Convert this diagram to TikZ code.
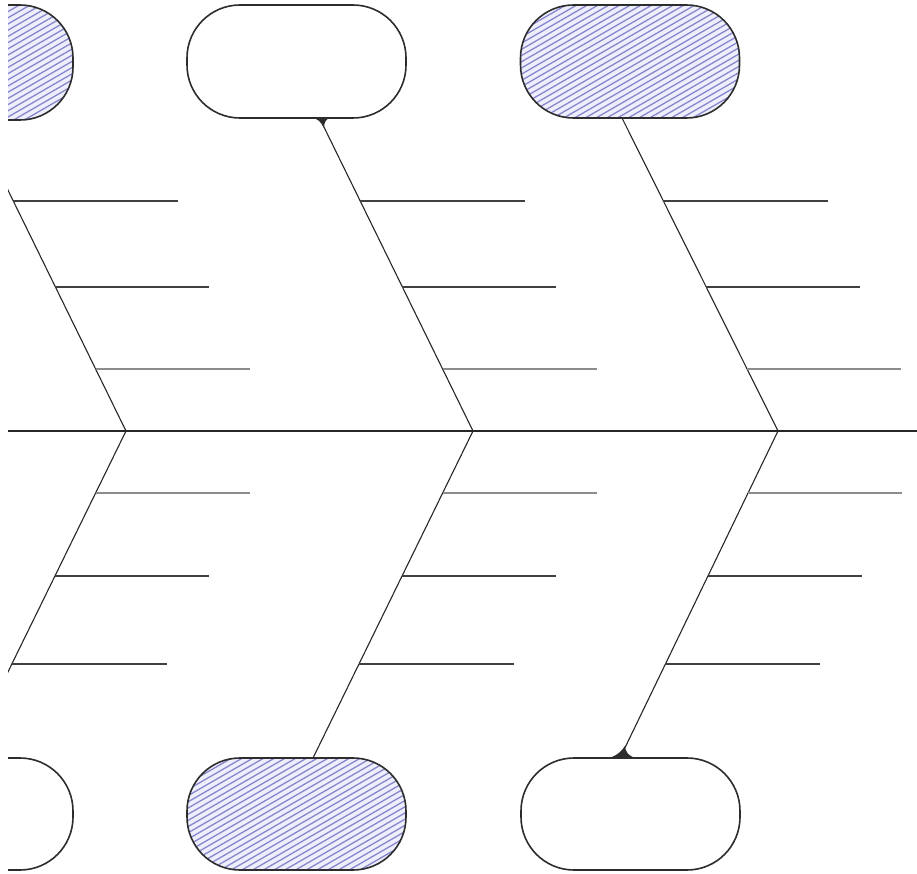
\documentclass[tikz,border=0pt]{standalone}
\usetikzlibrary{calc}
\definecolor{hatchc}{RGB}{135,135,205}
\definecolor{hatchbg}{RGB}{238,238,252}
\definecolor{edge}{RGB}{45,45,45}
\tikzset{
 box/.style={draw=edge, line width=1.6pt, rounded corners=53pt, minimum width=219pt, minimum height=113pt, inner sep=0pt, fill=white},
 hatched/.style={fill=hatchbg, path picture={\foreach \k in {-40,...,40}{\draw[hatchc,line width=1.3pt,shift={(path picture bounding box.center)}] (-160,\k*6.2+92) -- ++(320,-184.8);}}},
 bone/.style={draw=black!85, line width=1.1pt},
 rib/.style={draw=black!75, line width=1.1pt},
 riblight/.style={draw=black!45, line width=1.1pt},
 fillet/.style={fill=edge},
}
\begin{document}
\begin{tikzpicture}[x=1pt,y=-1pt]
\useasboundingbox (0,0) rectangle (917,874);
\clip (8,-5) rectangle (920,880);
% spine
\coordinate (s0) at (8,431);
\coordinate (s1) at (917,431);
\draw[bone] (s0) -- (s1);
% bone vertices and ends
\coordinate (v1) at (126,431);
\coordinate (t1) at (3,180);
\coordinate (u1) at (4,680);
\coordinate (v2) at (473,431);
\coordinate (t2) at (320,119);
\coordinate (u2) at (313,758);
\coordinate (v3) at (778,431);
\coordinate (t3) at (622,118);
\coordinate (u3) at (620,758);
\foreach \v/\t/\u in {v1/t1/u1, v2/t2/u2, v3/t3/u3}{
  \draw[bone] (\t) -- (\v) -- (\u);
}
% ribs (computed on bones)
\foreach \v/\t/\u/\fa/\fb in {v1/t1/u1/251/249, v2/t2/u2/312/327, v3/t3/u3/313/327}{
  \draw[rib] ($(\v)!{230/\fa}!(\t)$) -- +(165,0);
  \draw[rib] ($(\v)!{144/\fa}!(\t)$) -- +(154,0);
  \draw[riblight] ($(\v)!{62/\fa}!(\t)$) -- +(154,0);
  \draw[riblight] ($(\v)!{62/\fb}!(\u)$) -- +(154,0);
  \draw[rib] ($(\v)!{145/\fb}!(\u)$) -- +(154,0);
  \draw[rib] ($(\v)!{233/\fb}!(\u)$) -- +(155,0);
}
% boxes
\node[box,hatched,minimum height=115pt] (a1) at (-36.5,62.5) {};
\node[box] (b1) at (296.5,61.5) {};
\node[box,hatched] (c1) at (630,61.5) {};
\node[box,minimum height=112pt] (a2) at (-36.5,814) {};
\node[box,hatched,minimum height=112pt] (b2) at (296.5,814) {};
\node[box,minimum height=112pt] (c2) at (630.5,814) {};
% fillets
\fill[fillet] (311,117.5) .. controls (318,118.5) and (321,122) .. (324,128) .. controls (324,122) and (326,119) .. (331,117.5) -- cycle;
\fill[fillet] (605,758.5) .. controls (615,757.5) and (621,752) .. (625,746) .. controls (625,751) and (628,756) .. (637,758.5) -- cycle;
\end{tikzpicture}
\end{document}
